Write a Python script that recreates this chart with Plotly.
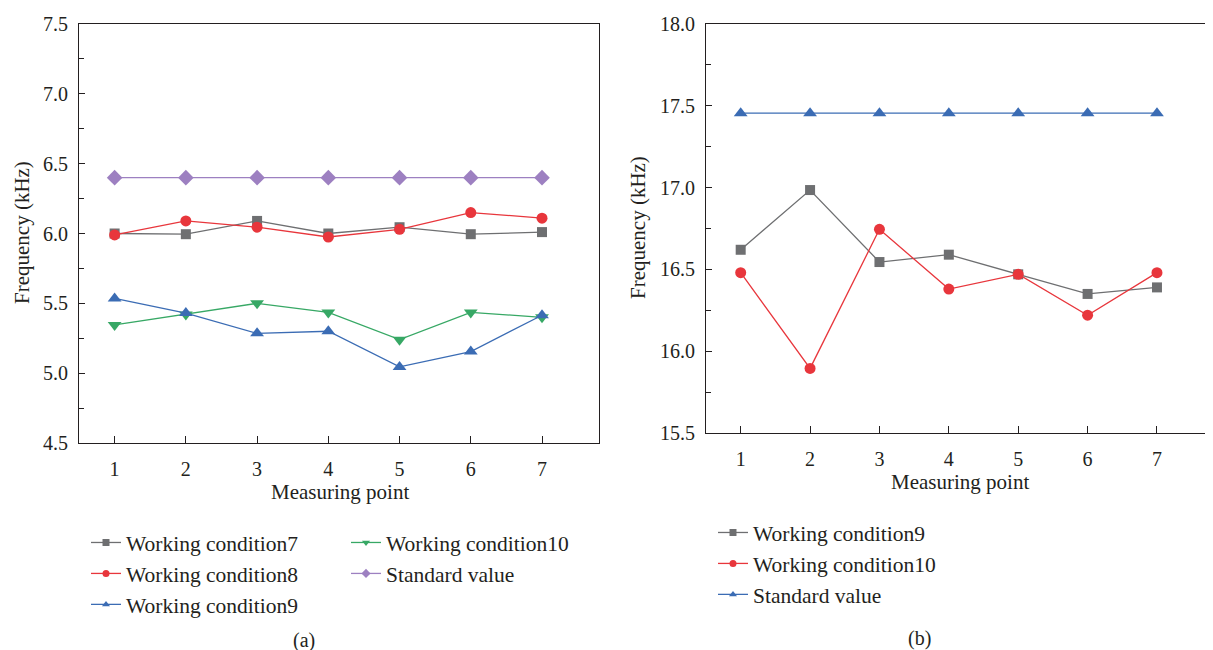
import plotly.graph_objects as go

points = [1, 2, 3, 4, 5, 6, 7]

# Panel (a)
wc7_a = [6.00, 5.995, 6.09, 6.00, 6.045, 5.995, 6.01]
wc8_a = [5.99, 6.09, 6.045, 5.975, 6.03, 6.15, 6.11]
wc9_a = [5.535, 5.43, 5.285, 5.30, 5.045, 5.155, 5.415]
wc10_a = [5.345, 5.42, 5.50, 5.435, 5.24, 5.435, 5.40]
std_a = [6.40, 6.40, 6.40, 6.40, 6.40, 6.40, 6.40]

# Panel (b)
wc9_b = [16.62, 16.985, 16.545, 16.59, 16.47, 16.35, 16.39]
wc10_b = [16.48, 15.895, 16.745, 16.38, 16.47, 16.22, 16.48]
std_b = [17.455, 17.455, 17.455, 17.455, 17.455, 17.455, 17.455]

GRAY = "#6e6f71"
RED = "#e8363c"
BLUE = "#3b6cb4"
GREEN = "#37a865"
PURPLE = "#9d80c1"
FONT = "Liberation Serif"
TXT = "#231f20"

W, H = 1205, 642  # page has an 8px body margin


def px(X):
    return (X - 8) / W


def py(Y):
    return 1 - (Y - 8) / H


fig = go.Figure()


def add(x, y, name, color, symbol, xa, ya, legend, size=10):
    fig.add_trace(go.Scatter(
        x=x, y=y, name=name, mode="lines+markers",
        line=dict(color=color, width=1.3),
        marker=dict(color=color, symbol=symbol, size=size),
        xaxis=xa, yaxis=ya, showlegend=False,
    ))
    fig.add_trace(go.Scatter(
        x=[None], y=[None], name=name, mode="lines+markers",
        line=dict(color=color, width=1.3),
        marker=dict(color=color, symbol=symbol, size=7),
        xaxis=xa, yaxis=ya, legend=legend, showlegend=True,
    ))


add(points, std_a, "Standard value", PURPLE, "diamond", "x", "y", None, 12)
fig.data[-1].update(showlegend=False)
add(points, wc7_a, "Working condition7", GRAY, "square", "x", "y", "legend", 10)
add(points, wc8_a, "Working condition8", RED, "circle", "x", "y", "legend", 11)
add(points, wc10_a, "Working condition10", GREEN, "triangle-down", "x", "y", "legend2", 12)
add(points, wc9_a, "Working condition9", BLUE, "triangle-up", "x", "y", "legend", 12)
# legend entry for standard value of panel (a), after condition10 in its column
fig.add_trace(go.Scatter(
    x=[None], y=[None], name="Standard value", mode="lines+markers",
    line=dict(color=PURPLE, width=1.3),
    marker=dict(color=PURPLE, symbol="diamond", size=7),
    xaxis="x", yaxis="y", legend="legend2", showlegend=True,
))

add(points, wc9_b, "Working condition9", GRAY, "square", "x2", "y2", "legend3", 10)
add(points, wc10_b, "Working condition10", RED, "circle", "x2", "y2", "legend3", 11)
add(points, std_b, "Standard value", BLUE, "triangle-up", "x2", "y2", "legend3", 12)

axis_common = dict(
    showline=True, linecolor=TXT, linewidth=1.2, mirror=True,
    ticks="inside", tickcolor=TXT, showgrid=False, zeroline=False,
    automargin=False,
    tickfont=dict(family=FONT, size=20, color=TXT),
)

legend_common = dict(
    font=dict(family=FONT, size=21.5, color=TXT),
    bgcolor="rgba(0,0,0,0)", tracegroupgap=0, itemwidth=30,
    xanchor="left", yanchor="top", traceorder="normal",
)

title_font = dict(family=FONT, size=21, color=TXT)


def ann(text, X, Y, angle=0, size=21):
    return dict(text=text, x=px(X), y=py(Y), xref="paper", yref="paper",
                xanchor="center", yanchor="middle", showarrow=False,
                textangle=angle, font=dict(family=FONT, size=size, color=TXT))


fig.update_layout(
    width=W, height=H,
    margin=dict(l=0, r=0, t=0, b=0, pad=0, autoexpand=False),
    paper_bgcolor="white", plot_bgcolor="white",
    font=dict(family=FONT, color=TXT),
    xaxis=dict(domain=[px(79), px(599)], range=[0.5, 7.8], tickvals=points,
               anchor="y", ticklen=7, ticklabelstandoff=8, **axis_common),
    yaxis=dict(domain=[py(443), py(24)], range=[4.5, 7.5], dtick=0.5,
               tickformat=".1f", anchor="x", ticklen=6, ticklabelstandoff=6,
               minor=dict(dtick=0.25, ticks="inside", ticklen=5, tickcolor=TXT),
               **axis_common),
    xaxis2=dict(domain=[px(706), px(1209)], range=[0.5, 7.75], tickvals=points,
                anchor="y2", ticklen=7, ticklabelstandoff=8, **axis_common),
    yaxis2=dict(domain=[py(433), py(24)], range=[15.5, 18.0], dtick=0.5,
                tickformat=".1f", anchor="x2", ticklen=6, ticklabelstandoff=6,
                minor=dict(dtick=0.25, ticks="inside", ticklen=5, tickcolor=TXT),
                **axis_common),
    legend=dict(x=px(86), y=py(522), **legend_common),
    legend2=dict(x=px(346), y=py(522), **legend_common),
    legend3=dict(x=px(713), y=py(512), **legend_common),
    showlegend=True,
    annotations=[
        ann("Measuring point", 340, 492),
        ann("Measuring point", 960, 482),
        ann("Frequency (kHz)", 22, 233, -90),
        ann("Frequency (kHz)", 638, 228, -90),
        ann("(a)", 304, 640, size=20),
        ann("(b)", 919, 638, size=20),
    ],
)

fig.write_html("out.html")
